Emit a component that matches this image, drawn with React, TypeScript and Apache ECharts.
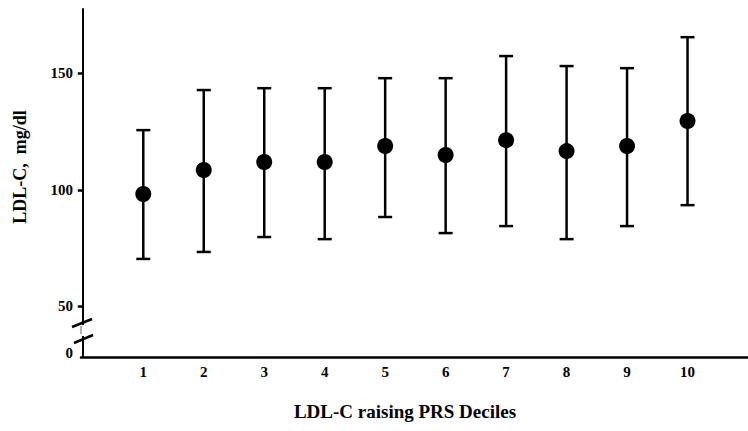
import React, { useEffect, useRef } from "react";
import * as echarts from "echarts";

const deciles = [1, 2, 3, 4, 5, 6, 7, 8, 9, 10];
const meanLDL = [98.2, 108.5, 111.9, 111.9, 118.8, 114.9, 121.3, 116.6, 118.8, 129.5];
const upperLDL = [125.6, 142.8, 143.6, 143.6, 147.9, 147.9, 157.4, 153.1, 152.2, 165.5];
const lowerLDL = [70.3, 73.3, 79.7, 78.8, 88.3, 81.4, 84.4, 78.8, 84.4, 93.4];
const xTickLabels = ["1", "2", "3", "4", "5", "6", "7", "8", "9", "10"];
// broken axis: the lowest label "0" sits just above the x axis
const yTickValues = [29.9, 50, 100, 150];
const yTickLabels = ["0", "50", "100", "150"];
const yTickMarks = [50, 100, 150];

const FONT = "'Liberation Serif', 'Times New Roman', serif";

export default function App() {
  const ref = useRef<HTMLDivElement>(null);

  useEffect(() => {
    if (!ref.current) return;
    const chart = echarts.init(ref.current, null, { renderer: "svg" });

    const errData = deciles.map((d, i) => [d, lowerLDL[i], upperLDL[i]]);
    const meanData = deciles.map((d, i) => [d, meanLDL[i]]);

    chart.setOption({
      animation: false,
      backgroundColor: "#ffffff",
      grid: { left: 81, right: 0, top: 9, bottom: 74 },
      xAxis: {
        type: "value",
        min: -0.03,
        max: 11,
        axisLine: { show: true, lineStyle: { color: "#000", width: 2.5 } },
        axisTick: { show: false },
        splitLine: { show: false },
        axisLabel: {
          customValues: deciles,
          formatter: (v: number) => xTickLabels[deciles.indexOf(Math.round(v))] ?? "",
          color: "#000",
          fontFamily: FONT,
          fontWeight: "bold",
          fontSize: 15,
          margin: 7,
        },
      },
      yAxis: {
        type: "value",
        min: 28.2,
        max: 177.6,
        axisLine: { show: true, lineStyle: { color: "#000", width: 2 } },
        axisTick: {
          show: true,
          customValues: yTickMarks,
          length: 5,
          lineStyle: { color: "#000", width: 2.5 },
        },
        splitLine: { show: false },
        axisLabel: {
          customValues: yTickValues,
          formatter: (v: number) => {
            const idx = yTickValues.findIndex((t) => Math.abs(t - v) < 0.01);
            return idx >= 0 ? yTickLabels[idx] : "";
          },
          color: "#000",
          fontFamily: FONT,
          fontWeight: "bold",
          fontSize: 15,
          margin: 8,
        },
      },
      series: [
        {
          type: "custom",
          data: errData,
          z: 2,
          renderItem: (params: any, api: any) => {
            const x = api.value(0);
            const lo = api.coord([x, api.value(1)]);
            const hi = api.coord([x, api.value(2)]);
            const cap = 7;
            const style = { stroke: "#000", lineWidth: 2.5 };
            return {
              type: "group",
              children: [
                { type: "line", shape: { x1: lo[0], y1: lo[1], x2: hi[0], y2: hi[1] }, style },
                { type: "line", shape: { x1: hi[0] - cap, y1: hi[1], x2: hi[0] + cap, y2: hi[1] }, style },
                { type: "line", shape: { x1: lo[0] - cap, y1: lo[1], x2: lo[0] + cap, y2: lo[1] }, style },
              ],
            };
          },
        },
        {
          type: "scatter",
          data: meanData,
          symbol: "circle",
          symbolSize: 16,
          itemStyle: { color: "#000", opacity: 1 },
          z: 3,
        },
      ],
      graphic: [
        {
          type: "rect",
          shape: { x: 77, y: 325, width: 8, height: 11 },
          style: { fill: "#fff" },
          z: 100,
        },
        {
          type: "line",
          shape: { x1: 81, y1: 326, x2: 81, y2: 334 },
          style: { stroke: "#9a9a9a", lineWidth: 1.5 },
          z: 101,
        },
        {
          type: "line",
          shape: { x1: 72, y1: 327, x2: 92, y2: 319 },
          style: { stroke: "#000", lineWidth: 2.5 },
          z: 102,
        },
        {
          type: "line",
          shape: { x1: 74, y1: 343, x2: 93, y2: 335 },
          style: { stroke: "#000", lineWidth: 2.5 },
          z: 102,
        },
        {
          type: "text",
          x: 405,
          y: 411,
          style: {
            text: "LDL-C raising PRS Deciles",
            fill: "#000",
            font: `bold 19px ${FONT}`,
            textAlign: "center",
            textVerticalAlign: "middle",
          },
          z: 100,
        },
        {
          type: "text",
          x: 20,
          y: 167,
          rotation: Math.PI / 2,
          style: {
            text: "LDL-C,  mg/dl",
            fill: "#000",
            font: `bold 18px ${FONT}`,
            textAlign: "center",
            textVerticalAlign: "middle",
          },
          z: 100,
        },
      ],
    });

    return () => {
      chart.dispose();
    };
  }, []);

  return (
    <div
      ref={ref}
      style={{ position: "fixed", left: 0, top: 0, width: 748, height: 431, background: "#fff" }}
    />
  );
}
